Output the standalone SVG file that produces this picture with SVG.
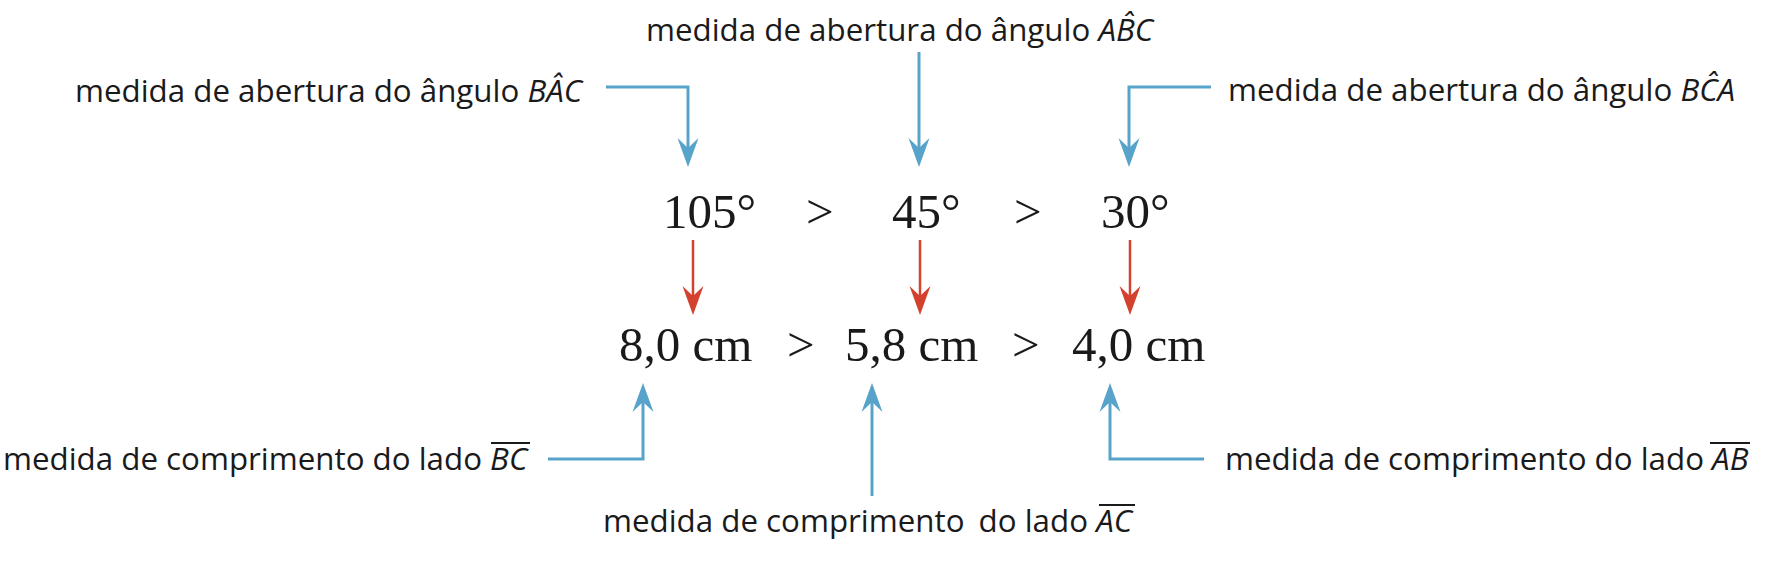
<svg xmlns="http://www.w3.org/2000/svg" width="1767" height="561" viewBox="0 0 1767 561">
<style>
.lbl{font-family:"Open Sans","Noto Sans",sans-serif;font-size:31.3px;fill:#1a1a1a;}
.it{font-style:italic;}
.ovl{stroke:#1a1a1a;stroke-width:2;}
.num{font-family:"Liberation Serif","Times New Roman",serif;font-size:49px;fill:#1a1a1a;}
.blue{stroke:#57A3C9;stroke-width:3;fill:none;marker-end:url(#ab);}
.red{stroke:#D4412F;stroke-width:2.5;fill:none;marker-end:url(#ar);}
</style>
<defs>
<marker id="ab" markerUnits="userSpaceOnUse" markerWidth="30" markerHeight="22" viewBox="0 -11 30 22" refX="10" refY="0" orient="auto">
<path d="M0,-10.5 L29,0 L0,10.5 L10,0 Z" fill="#57A3C9"/>
</marker>
<marker id="ar" markerUnits="userSpaceOnUse" markerWidth="30" markerHeight="22" viewBox="0 -11 30 22" refX="10" refY="0" orient="auto">
<path d="M0,-10.5 L29,0 L0,10.5 L10,0 Z" fill="#D4412F"/>
</marker>
</defs>

<g id="label-BAC"><text class="lbl" x="75" y="102">medida de abertura do ângulo <tspan class="it">BÂC</tspan></text></g>
<g id="label-ABC"><text class="lbl" x="646" y="41">medida de abertura do ângulo <tspan class="it">AB&#x302;C</tspan></text></g>
<g id="label-BCA"><text class="lbl" x="1228" y="101">medida de abertura do ângulo <tspan class="it">BĈA</tspan></text></g>

<g id="angle-105"><text class="num" x="663" y="228">105°</text></g>
<g id="gt-a1"><text class="num" x="806" y="228">&gt;</text></g>
<g id="angle-45"><text class="num" x="892" y="228">45°</text></g>
<g id="gt-a2"><text class="num" x="1014" y="228">&gt;</text></g>
<g id="angle-30"><text class="num" x="1101" y="228">30°</text></g>

<g id="side-BC"><text class="num" x="619" y="361">8,0 cm</text></g>
<g id="gt-s1"><text class="num" x="787" y="361">&gt;</text></g>
<g id="side-AC"><text class="num" x="845" y="361">5,8 cm</text></g>
<g id="gt-s2"><text class="num" x="1012" y="361">&gt;</text></g>
<g id="side-AB"><text class="num" x="1072" y="361">4,0 cm</text></g>

<g id="label-lado-BC"><text class="lbl" x="3" y="470">medida de comprimento do lado <tspan class="it">BC</tspan></text><line class="ovl" x1="491" y1="443" x2="530" y2="443"/></g>
<g id="label-lado-AC"><text class="lbl" x="603" y="532">medida de comprimento <tspan dx="6">do lado </tspan><tspan class="it">AC</tspan></text><line class="ovl" x1="1099" y1="505" x2="1135" y2="505"/></g>
<g id="label-lado-AB"><text class="lbl" x="1225" y="470">medida de comprimento do lado <tspan class="it">AB</tspan></text><line class="ovl" x1="1710" y1="443" x2="1750" y2="443"/></g>

<g id="connectors">
<path class="blue" d="M606,87 H688 V148"/>
<path class="blue" d="M919,52 V148"/>
<path class="blue" d="M1211,87 H1129 V148"/>
<path class="red" d="M693,240 V296"/>
<path class="red" d="M920,240 V296"/>
<path class="red" d="M1130,240 V296"/>
<path class="blue" d="M548,459 H643 V402"/>
<path class="blue" d="M872,496 V402"/>
<path class="blue" d="M1204,459 H1110 V402"/>
</g>
</svg>
